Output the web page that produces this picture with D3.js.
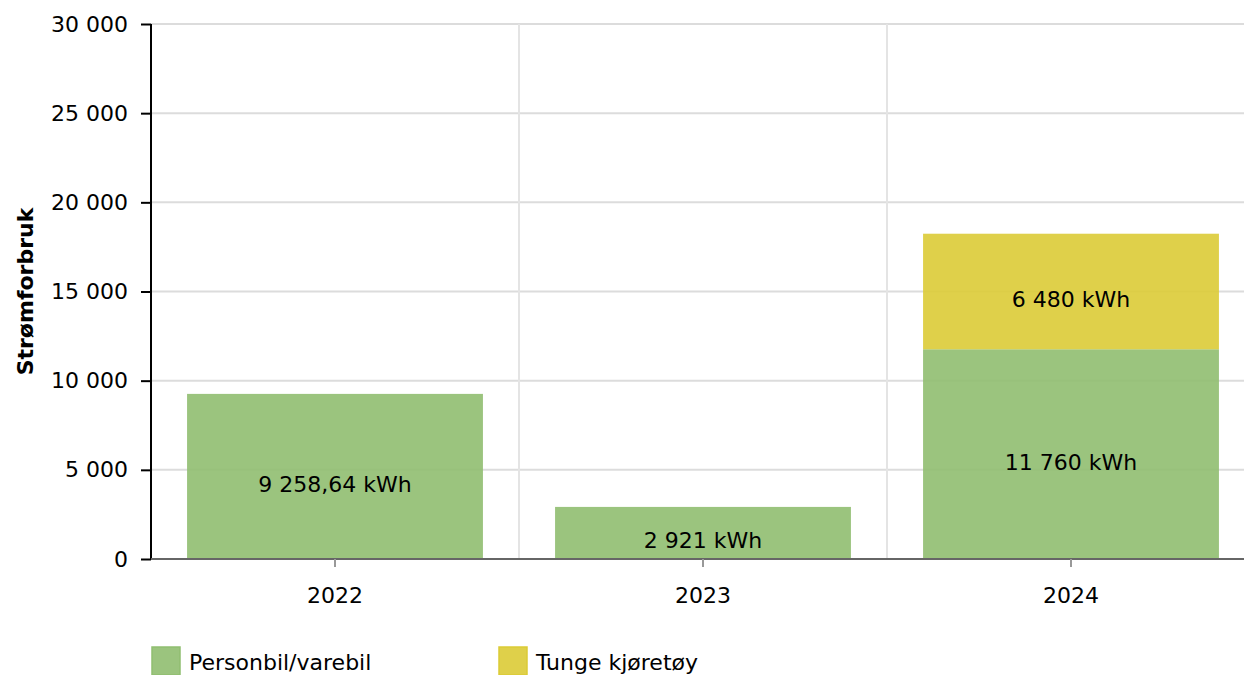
<!DOCTYPE html>
<html>
<head>
<meta charset="utf-8">
<style>
  body { margin: 0; background: #fff; }
  svg { font-family: "DejaVu Sans", Verdana, sans-serif; }
  .grid line { stroke: #dcdcdc; stroke-width: 2px; }
</style>
</head>
<body>
<script src="https://cdn.jsdelivr.net/npm/d3@7"></script>
<script>
var years = ["2022", "2023", "2024"];
var personbil = [9258.64, 2921, 11760];
var tunge = [0, 0, 6480];
var personLabels = ["9 258,64 kWh", "2 921 kWh", "11 760 kWh"];
var tungeLabels = ["", "", "6 480 kWh"];
var yTicks = [0, 5000, 10000, 15000, 20000, 25000, 30000];
var seriesNames = ["Personbil/varebil", "Tunge kjøretøy"];
var seriesColors = ["#90be70", "#dbcb36"];

var width = 1244, height = 675;
var plotLeft = 151, plotRight = 1255, plotTop = 24, plotBottom = 559;
var fontSize = "22px";

var svg = d3.select("body").append("svg")
    .attr("width", width)
    .attr("height", height);

var x = d3.scaleBand().domain(years).range([plotLeft, plotRight]).padding(0);
var y = d3.scaleLinear().domain([0, 30000]).range([plotBottom, plotTop]);

var fmt = function(v) { return d3.format(",")(v).replace(/,/g, "\u00a0"); };

// grid
var grid = svg.append("g").attr("class", "grid");
grid.selectAll("line.h").data(yTicks.slice(1)).enter().append("line")
    .attr("x1", plotLeft).attr("x2", plotRight)
    .attr("y1", function(d) { return y(d); }).attr("y2", function(d) { return y(d); });
grid.selectAll("line.v").data(years.slice(1)).enter().append("line")
    .attr("x1", function(d) { return x(d); }).attr("x2", function(d) { return x(d); })
    .attr("y1", plotTop).attr("y2", plotBottom)
    .style("stroke", "#e4e4e4");

// bars
var barW = x.bandwidth() * 0.804;
var bars = svg.append("g");
years.forEach(function(yr, i) {
    var cx = x(yr) + x.bandwidth() / 2;
    bars.append("rect")
        .attr("x", cx - barW / 2).attr("width", barW)
        .attr("y", y(personbil[i])).attr("height", y(0) - y(personbil[i]))
        .attr("fill", seriesColors[0]).attr("fill-opacity", 0.9);
    if (tunge[i] > 0) {
        bars.append("rect")
            .attr("x", cx - barW / 2).attr("width", barW)
            .attr("y", y(personbil[i] + tunge[i])).attr("height", y(personbil[i]) - y(personbil[i] + tunge[i]))
            .attr("fill", seriesColors[1]).attr("fill-opacity", 0.9);
    }
    bars.append("text")
        .attr("x", cx).attr("y", (y(0) + y(personbil[i])) / 2)
        .attr("dy", "0.7em").attr("text-anchor", "middle")
        .style("font-size", fontSize).attr("fill", "#000")
        .text(personLabels[i]);
    if (tunge[i] > 0) {
        bars.append("text")
            .attr("x", cx).attr("y", (y(personbil[i]) + y(personbil[i] + tunge[i])) / 2)
            .attr("dy", "0.7em").attr("text-anchor", "middle")
            .style("font-size", fontSize).attr("fill", "#000")
            .text(tungeLabels[i]);
    }
});

// y axis
var yAxis = svg.append("g")
    .attr("transform", "translate(" + plotLeft + ",0)")
    .call(d3.axisLeft(y).tickValues(yTicks).tickFormat(fmt).tickSize(10).tickPadding(13));
yAxis.select(".domain").attr("stroke", "#000").attr("stroke-width", 2)
    .attr("d", "M0," + plotTop + "V" + plotBottom);
yAxis.selectAll(".tick line").attr("stroke", "#000").attr("stroke-width", 2);
yAxis.selectAll(".tick text").style("font-size", fontSize).attr("fill", "#000")
    .style("font-family", "'DejaVu Sans', Verdana, sans-serif");

// x axis
var xAxis = svg.append("g")
    .attr("transform", "translate(0," + plotBottom + ")")
    .call(d3.axisBottom(x).tickSize(8).tickPadding(20));
xAxis.select(".domain").attr("stroke", "#666").attr("stroke-width", 2)
    .attr("d", "M" + plotLeft + ",0H" + plotRight);
xAxis.selectAll(".tick line").attr("stroke", "#999").attr("stroke-width", 2);
xAxis.selectAll(".tick text").style("font-size", fontSize).attr("fill", "#000")
    .style("font-family", "'DejaVu Sans', Verdana, sans-serif");

// y title
svg.append("text")
    .attr("transform", "translate(33," + ((plotTop + plotBottom) / 2) + ") rotate(-90)")
    .attr("text-anchor", "middle")
    .style("font-size", "22px").style("font-weight", "bold")
    .text("Strømforbruk");

// legend
var legendX = [151, 498];
var legend = svg.append("g");
seriesNames.forEach(function(n, i) {
    legend.append("rect")
        .attr("x", legendX[i] + 1).attr("y", 647)
        .attr("width", 28).attr("height", 28)
        .attr("fill", seriesColors[i]).attr("fill-opacity", 0.9)
        .attr("stroke", seriesColors[i]).attr("stroke-width", 1.5);
    legend.append("text")
        .attr("x", legendX[i] + 38).attr("y", 670)
        .style("font-size", fontSize).attr("fill", "#000")
        .text(n);
});
</script>
</body>
</html>
